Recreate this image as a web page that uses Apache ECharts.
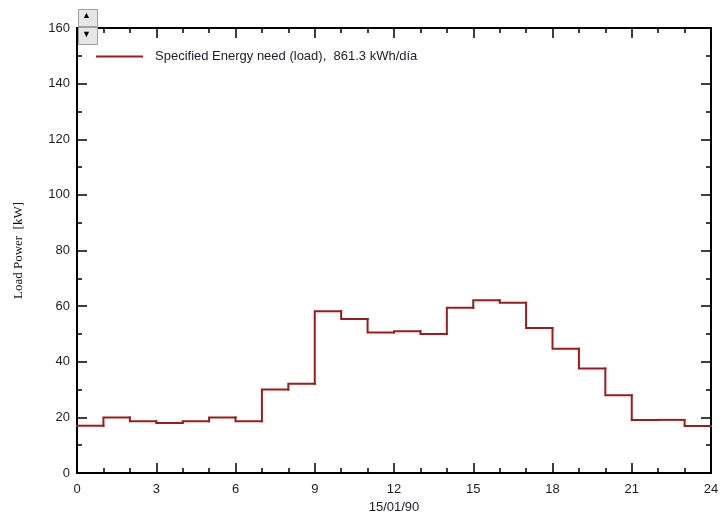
<!DOCTYPE html>
<html>
<head>
<meta charset="utf-8">
<script src="https://cdn.jsdelivr.net/npm/echarts@6/dist/echarts.min.js"></script>
<style>
  html, body { margin: 0; padding: 0; background: #fff; }
</style>
</head>
<body>
<div id="main" style="width: 723px;height:515px;"></div>
<script>
// hourly load, kW (hour 0..23)
var hours = [0, 1, 2, 3, 4, 5, 6, 7, 8, 9, 10, 11, 12, 13, 14, 15, 16, 17, 18, 19, 20, 21, 22, 23];
var loadKw = [17, 20, 18.6, 18, 18.6, 20, 18.6, 30, 32.1, 58.2, 55.4, 50.5, 51, 50, 59.4, 62.1, 61.2, 52.1, 44.7, 37.6, 28, 19.1, 19.1, 16.9];
var seriesName = "Specified Energy need (load),  861.3 kWh/día";
var xTitle = "15/01/90";
var yTitle = "Load Power  [kW]";
var lineColor = "#9e1b1b";

// [hour, value, value of previous hour] -> one step per item
var steps = [];
for (var i = 0; i < hours.length; i++) {
  steps.push([hours[i], loadKw[i], i > 0 ? loadKw[i - 1] : loadKw[i]]);
}

var myChart = echarts.init(document.getElementById("main"));

var labelFont = { color: "#1c1c2c", fontFamily: "Liberation Sans", fontSize: 13 };

var axisLine = { show: true, onZero: false, lineStyle: { color: "#000", width: 2 } };
var tick = { inside: true, length: 10, lineStyle: { color: "#000", width: 1.5 } };
var minorX = { show: true, splitNumber: 3, length: 5, lineStyle: { color: "#000", width: 1.5 } };
var minorY = { show: true, splitNumber: 2, length: 5, lineStyle: { color: "#000", width: 1.5 } };

var option = {
  animation: false,
  grid: { left: 77, right: 12, top: 28, bottom: 42, outerBoundsMode: "none" },
  legend: {
    left: 91,
    top: 45,
    icon: "rect",
    itemWidth: 47,
    itemHeight: 2,
    textStyle: { color: "#1c1c2c", fontFamily: "Liberation Sans", fontSize: 13, padding: [0, 0, 0, 7] },
    data: [seriesName]
  },
  xAxis: [
    {
      type: "value",
      min: 0,
      max: 24,
      interval: 3,
      name: xTitle,
      nameLocation: "middle",
      nameGap: 23,
      nameTextStyle: labelFont,
      axisLine: axisLine,
      axisTick: tick,
      minorTick: minorX,
      axisLabel: Object.assign({ margin: 10 }, labelFont),
      splitLine: { show: false }
    },
    {
      type: "value",
      position: "top",
      min: 0,
      max: 24,
      interval: 3,
      axisLine: axisLine,
      axisTick: tick,
      minorTick: minorX,
      axisLabel: { show: false },
      splitLine: { show: false }
    }
  ],
  yAxis: [
    {
      type: "value",
      min: 0,
      max: 160,
      interval: 20,
      name: yTitle,
      nameLocation: "middle",
      nameGap: 52,
      nameTextStyle: { color: "#111", fontFamily: "Liberation Serif", fontSize: 13 },
      axisLine: axisLine,
      axisTick: tick,
      minorTick: minorY,
      axisLabel: Object.assign({ margin: 7 }, labelFont),
      splitLine: { show: false }
    },
    {
      type: "value",
      position: "right",
      min: 0,
      max: 160,
      interval: 20,
      axisLine: axisLine,
      axisTick: tick,
      minorTick: minorY,
      axisLabel: { show: false },
      splitLine: { show: false }
    }
  ],
  series: [
    {
      name: seriesName,
      type: "custom",
      itemStyle: { color: lineColor },
      encode: { x: 0, y: 1 },
      renderItem: function (params, api) {
        var h = api.value(0);
        var v = api.value(1);
        var prev = api.value(2);
        return {
          type: "polyline",
          shape: { points: [api.coord([h, prev]), api.coord([h, v]), api.coord([h + 1, v])] },
          style: { stroke: lineColor, lineWidth: 2, fill: null, lineCap: "square" }
        };
      },
      data: steps
    }
  ],
  graphic: [
    // little scroll buttons at top-left
    { type: "rect", left: 78, top: 9, shape: { width: 19, height: 17 }, style: { fill: "#e6e6e6", stroke: "#a0a0a0", lineWidth: 1 }, z: 10 },
    { type: "text", left: 82, top: 11, style: { text: "▲", fontSize: 9, fill: "#000" }, z: 11 },
    { type: "rect", left: 78, top: 27, shape: { width: 19, height: 17 }, style: { fill: "#e6e6e6", stroke: "#a0a0a0", lineWidth: 1 }, z: 10 },
    { type: "text", left: 82, top: 30, style: { text: "▼", fontSize: 9, fill: "#000" }, z: 11 }
  ]
};

myChart.setOption(option);
</script>
</body>
</html>
